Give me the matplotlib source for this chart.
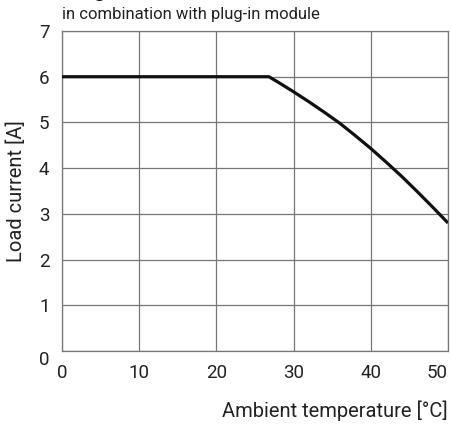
import matplotlib
matplotlib.use("Agg")
import matplotlib.pyplot as plt

# derating curve
temp = [0, 26.8, 28, 30, 32, 34, 36, 38, 40, 42, 44, 46, 48, 50]
current = [6.0, 6.0, 5.88, 5.67, 5.45, 5.22, 4.98, 4.71, 4.43, 4.13, 3.82, 3.49, 3.15, 2.8]
xticks = [0, 10, 20, 30, 40, 50]
yticks = [0, 1, 2, 3, 4, 5, 6, 7]

plt.rcParams['font.family'] = ['Roboto', 'DejaVu Sans']

fig = plt.figure(figsize=(4.52, 4.26), dpi=100)
ax = fig.add_axes([62/452, 1 - 351/426, 386/452, 320/426])

ax.plot(temp, current, color='#111111', lw=2.3, solid_capstyle='butt', zorder=3)

ax.set_xlim(0, 50)
ax.set_ylim(0, 7)
ax.set_xticks(xticks)
ax.set_yticks(yticks)
ax.grid(True, color='#777777', lw=0.9)
for s in ax.spines.values():
    s.set_color('#777777')
    s.set_linewidth(0.9)
ax.tick_params(length=0, labelsize=13.5, colors='#222222', pad=9)
ax.tick_params(axis='y', pad=9)
# the zero on the y axis sits a bit below the axis line
ax.get_yticklabels()[0].set_va('top')
ax.get_xticklabels()[-1].set_ha('right')

ax.set_ylabel('Load current [A]', fontsize=14.5, color='#222222', labelpad=9)
ax.set_xlabel('Ambient temperature [°C]', fontsize=14.5, color='#222222')
ax.xaxis.set_label_coords(1.0, -0.155)
ax.xaxis.get_label().set_ha('right')

fig.text(62/452, 1 - 15/426, 'in combination with plug-in module', fontsize=12,
         color='#222222', va='center', ha='left')
fig.text(22/452, 1 + 4/426, 'Derating', fontsize=16, fontweight='bold',
         color='#111111', va='baseline', ha='left')

fig.savefig('out.png', dpi=100)
